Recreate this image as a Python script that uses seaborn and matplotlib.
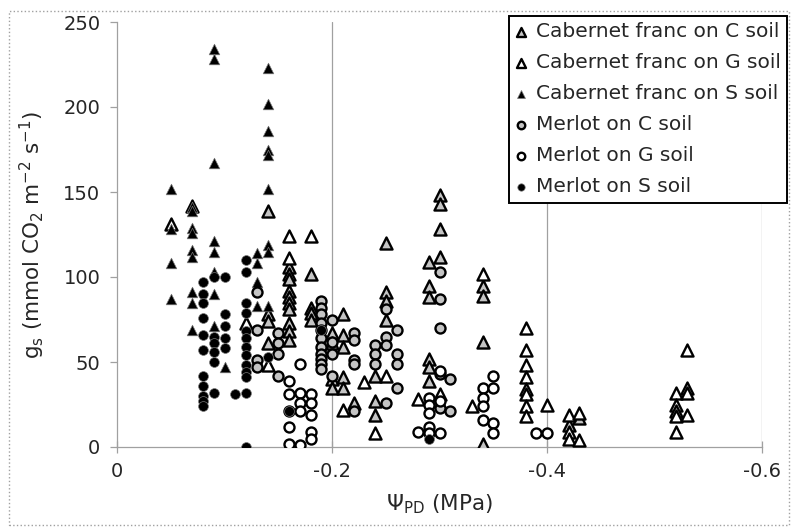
import pandas as pd
import seaborn as sns
import matplotlib.pyplot as plt
from matplotlib.patches import Rectangle

# stomatal conductance readings (mmol CO2 m-2 s-1), grouped by pre-dawn water potential (MPa)
cf_c = {-0.14: [139, 78, 74, 61],
        -0.16: [106, 102, 99, 92, 88, 85, 81, 73, 68, 63],
        -0.18: [102, 82, 79, 75],
        -0.20: [67, 61, 40, 35],
        -0.21: [78, 66, 59, 41, 35],
        -0.22: [26],
        -0.24: [42, 27, 19],
        -0.25: [120, 91, 86, 75],
        -0.29: [109, 95, 88, 52, 47, 39],
        -0.30: [148, 143, 128, 112],
        -0.34: [95, 89, 62, 2],
        -0.42: [13],
        -0.43: [17]}

cf_g = {-0.05: [131],
        -0.07: [142],
        -0.12: [73],
        -0.14: [48],
        -0.16: [124, 111],
        -0.18: [124],
        -0.21: [22],
        -0.23: [38],
        -0.24: [8],
        -0.25: [42],
        -0.28: [28],
        -0.30: [31],
        -0.33: [24],
        -0.34: [102],
        -0.38: [70, 57, 48, 41, 34, 31, 24, 18],
        -0.40: [25],
        -0.42: [19, 9, 5],
        -0.43: [20, 4],
        -0.52: [32, 25, 21, 18, 9],
        -0.53: [57, 35, 32, 19]}

cf_s = {-0.05: [152, 128, 108, 87],
        -0.07: [141, 139, 129, 126, 116, 112, 91, 85, 69],
        -0.09: [234, 228, 167, 121, 115, 103, 90, 71],
        -0.10: [47],
        -0.13: [114, 108, 97, 83],
        -0.14: [223, 202, 186, 175, 172, 152, 119, 115, 83]}

me_c = {-0.13: [91, 69, 51, 47],
        -0.15: [67, 61, 55, 42],
        -0.19: [86, 82, 78, 73, 69, 64, 59, 55, 52, 49, 46],
        -0.20: [75, 62, 55, 42],
        -0.22: [67, 63, 51, 49, 21],
        -0.24: [60, 55, 49],
        -0.25: [81, 65, 60, 26],
        -0.26: [69, 55, 49, 35],
        -0.30: [103, 87, 70, 43, 23],
        -0.31: [40, 21]}

me_g = {-0.16: [39, 31, 21, 12, 2],
        -0.17: [49, 32, 26, 21, 1],
        -0.18: [31, 26, 19, 9, 5],
        -0.28: [9],
        -0.29: [29, 25, 20, 12, 8],
        -0.30: [45, 27, 8],
        -0.34: [35, 29, 24, 16],
        -0.35: [42, 35, 14, 8],
        -0.39: [8],
        -0.40: [8]}

me_s = {-0.08: [97, 90, 85, 76, 66, 57, 42, 36, 30, 27, 24],
        -0.09: [100, 65, 61, 56, 50, 32],
        -0.10: [100, 78, 71, 64, 58],
        -0.11: [31],
        -0.12: [110, 103, 85, 79, 68, 64, 59, 54, 48, 44, 41, 32, 0],
        -0.14: [53],
        -0.16: [21],
        -0.19: [69],
        -0.29: [5]}

labels = ['Cabernet franc on C soil', 'Cabernet franc on G soil', 'Cabernet franc on S soil',
          'Merlot on C soil', 'Merlot on G soil', 'Merlot on S soil']
xticks = [0, -0.2, -0.4, -0.6]
xtick_labels = ['0', '-0.2', '-0.4', '-0.6']
yticks = [0, 50, 100, 150, 200, 250]


def to_frame(cols):
    rows = [(psi, g) for psi, vals in cols.items() for g in vals]
    return pd.DataFrame(rows, columns=['psi', 'gs'])


sns.set_style('white')
plt.rcParams['font.family'] = ['DejaVu Sans']
plt.rcParams['mathtext.default'] = 'regular'
plt.rcParams['axes.unicode_minus'] = False

fig = plt.figure(figsize=(7.92, 5.27), dpi=100)
ax = fig.add_axes([117 / 792, 1 - 447 / 527, 645 / 792, 425 / 527])

gray = '#c4c4c4'
styles = [
    (cf_c, '^', gray, 'black', 75, 1.7),
    (cf_g, '^', 'white', 'black', 75, 1.7),
    (cf_s, '^', 'black', '#777777', 58, 0.5),
    (me_c, 'o', gray, 'black', 52, 1.7),
    (me_g, 'o', 'white', 'black', 52, 1.7),
    (me_s, 'o', 'black', '#777777', 50, 0.5),
]
for (cols, mk, fc, ec, size, lw), lab in zip(styles, labels):
    sns.scatterplot(data=to_frame(cols), x='psi', y='gs', marker=mk, color=fc,
                    edgecolor=ec, linewidth=lw, s=size, label=lab, ax=ax, zorder=3)

ax.set_xlim(0, -0.6)
ax.set_ylim(0, 250)
ax.set_xticks(xticks)
ax.set_xticklabels(xtick_labels)
ax.set_yticks(yticks)

for x in xticks[1:]:
    ax.axvline(x, color='#a0a0a0', lw=0.9, zorder=1)

for side in ['top', 'right']:
    ax.spines[side].set_visible(False)
for side in ['left', 'bottom']:
    ax.spines[side].set_color('#a0a0a0')
    ax.spines[side].set_linewidth(0.9)

ax.tick_params(axis='y', direction='out', length=5, width=0.9, color='#a0a0a0',
               labelsize=14, pad=7, left=True)
ax.tick_params(axis='x', direction='inout', length=8, width=0.9, color='#a0a0a0',
               labelsize=14, pad=7, bottom=True)

ax.set_xlabel('Ψ$_{PD}$ (MPa)', fontsize=15.5, labelpad=8)
ax.set_ylabel('g$_s$ (mmol CO$_2$ m$^{-2}$ s$^{-1}$)', fontsize=15.5, labelpad=12)

leg = ax.legend(loc='upper right', bbox_to_anchor=(787 / 792, 1 - 16 / 527),
                bbox_transform=fig.transFigure, fontsize=14.5, frameon=True,
                fancybox=False, framealpha=1, edgecolor='black', markerscale=0.75,
                handlelength=0.6, handletextpad=0.45, labelspacing=0.6,
                borderpad=0.3, borderaxespad=0)
leg.get_frame().set_linewidth(1.4)
leg.set_zorder(5)

fig.patches.append(Rectangle((9 / 792, 2 / 527), 780 / 792, 514 / 527,
                             transform=fig.transFigure, fill=False,
                             edgecolor='#a0a0a0', linestyle=':', lw=1))

fig.savefig('out.png', dpi=100)
